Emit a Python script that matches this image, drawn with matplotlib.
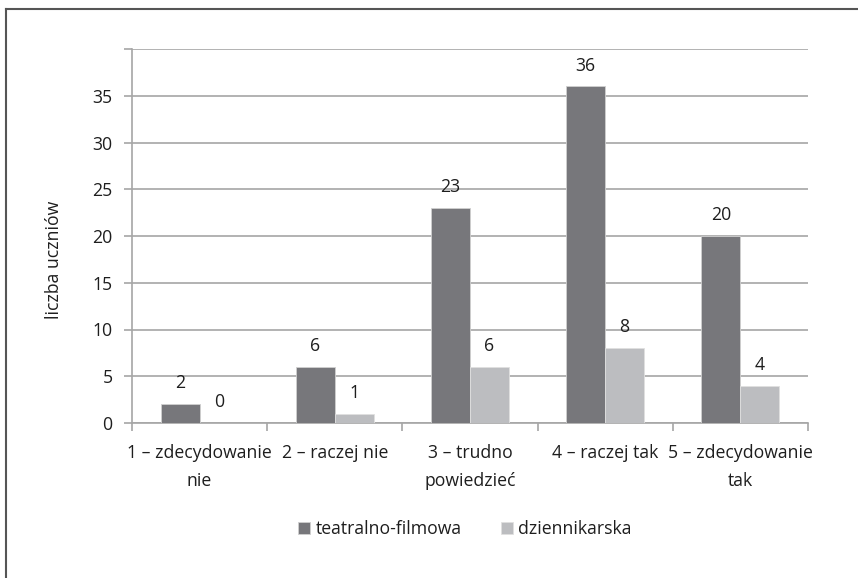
import matplotlib.pyplot as plt
from matplotlib.lines import Line2D
import numpy as np

plt.rcParams['font.family'] = ['Open Sans', 'DejaVu Sans']

categories = ['1 – zdecydowanie\nnie', '2 – raczej nie', '3 – trudno\npowiedzieć',
              '4 – raczej tak', '5 – zdecydowanie\ntak']
teatralno = [2, 6, 23, 36, 20]
dziennikarska = [0, 1, 6, 8, 4]
series_names = ['teatralno-filmowa', 'dziennikarska']

dark = '#77777b'
light = '#bcbdc0'
grid = '#a6a6a6'
txt = '#1e1e1e'
fs = 12.7

fig = plt.figure(figsize=(8.58, 5.78), dpi=100)
ax = fig.add_axes([132/858, 1-423/578, 676/858, 374/578])

x = np.arange(len(categories))
w = 0.288
b1 = ax.bar(x - w/2, teatralno, w, color=dark, edgecolor='#d0d0d0', linewidth=0.6,
            label=series_names[0], zorder=3)
b2 = ax.bar(x + w/2, dziennikarska, w, color=light, edgecolor='#e0e0e0', linewidth=0.6,
            label=series_names[1], zorder=3)

for bars, vals in ((b1, teatralno), (b2, dziennikarska)):
    for r, v in zip(bars, vals):
        ax.annotate(str(v), (r.get_x() + r.get_width()/2, v), xytext=(0, 15),
                    textcoords='offset points', ha='center', va='center',
                    fontsize=fs, color=txt)

ax.set_xlim(-0.5, len(categories) - 0.5)
ax.set_ylim(0, 40)
ax.set_yticks(range(0, 40, 5))
ax.set_yticks([40], minor=True)
ax.yaxis.grid(True, which='both', color=grid, linewidth=1.2, zorder=0)
ax.tick_params(axis='y', which='both', length=6, color=grid, width=1.2,
               labelsize=fs, labelcolor=txt, pad=8)
ax.set_xticks(x)
ax.set_xticklabels(categories, linespacing=1.75)
ax.set_xticks(np.arange(-0.5, len(categories)), minor=True)
ax.tick_params(axis='x', which='major', length=0, labelsize=fs, labelcolor=txt, pad=15)
ax.tick_params(axis='x', which='minor', length=6, color=grid, width=1.2)
for s in ('top', 'right'):
    ax.spines[s].set_visible(False)
for s in ('left', 'bottom'):
    ax.spines[s].set_color(grid)
    ax.spines[s].set_linewidth(1.2)

ax.set_ylabel('liczba uczniów', fontsize=fs, color=txt)
ax.yaxis.set_label_coords(-69/676, (423-260)/374)

fig.legend(loc='center', bbox_to_anchor=(465/858, 1-529/578), ncol=2, frameon=False,
           fontsize=fs, handlelength=0.7, handleheight=0.7, handletextpad=0.3,
           columnspacing=2.2, labelcolor=txt)

# chart frame (only left and top edges visible in the crop)
fig.add_artist(Line2D([6/858, 6/858], [0, 1-9/578], color='#555555', linewidth=1.5))
fig.add_artist(Line2D([6/858, 1], [1-9/578, 1-9/578], color='#555555', linewidth=1.5))

fig.savefig('out.png', dpi=100)
